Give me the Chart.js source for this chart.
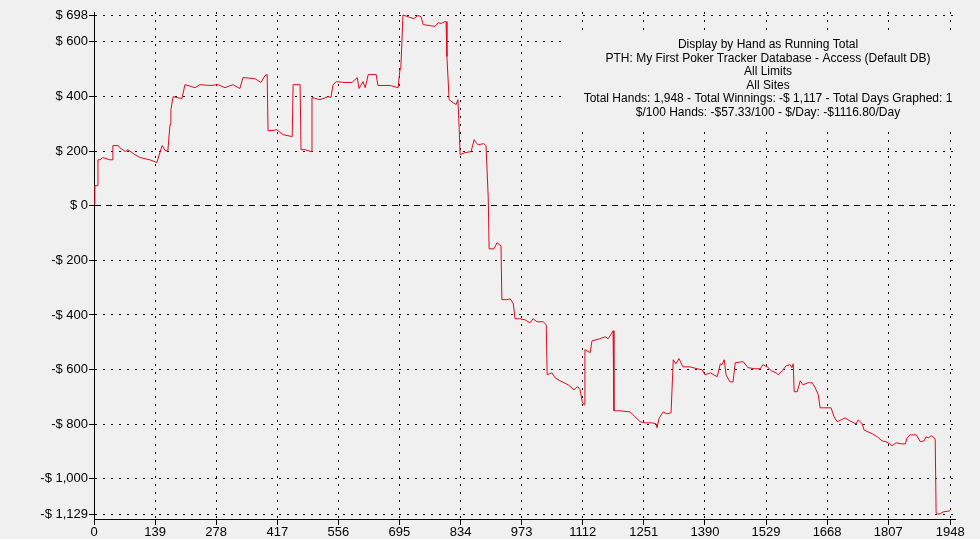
<!DOCTYPE html>
<html lang="en">
<head>
    <meta charset="UTF-8">
    <title>Running Total by Hand</title>
    <script src="https://cdn.jsdelivr.net/npm/chart.js"></script>
    <style>
        html, body { margin: 0; padding: 0; background: #f0f0f0; }
        #wrap { width: 980px; height: 539px; }
    </style>
</head>
<body>
    <div id="wrap"><canvas id="graph" width="980" height="539"></canvas></div>

    <script>
        // hand number and running total ($)
        const hands = [0, 2, 7, 9, 14, 20, 36, 41, 43, 55, 59, 71, 77, 93, 105, 127, 143, 155, 162, 168,
            173, 175, 180, 200, 207, 230, 241, 264, 282, 298, 316, 332, 339, 366, 380, 389, 394, 396, 405, 416,
            430, 451, 453, 469, 471, 480, 494, 496, 514, 533, 539, 544, 551, 571, 587, 599, 603, 612, 617, 624,
            642, 646, 674, 692, 696, 698, 703, 719, 728, 737, 744, 749, 765, 776, 783, 790, 799, 801, 803, 808,
            817, 824, 828, 831, 833, 844, 858, 865, 869, 874, 887, 892, 894, 897, 899, 910, 917, 926, 928, 940,
            947, 954, 958, 969, 981, 992, 999, 1008, 1022, 1029, 1031, 1042, 1049, 1060, 1079, 1092, 1097, 1101, 1106, 1111,
            1115, 1117, 1129, 1133, 1151, 1163, 1170, 1177, 1181, 1183, 1197, 1220, 1231, 1243, 1254, 1270, 1279, 1281, 1286, 1295,
            1304, 1313, 1318, 1324, 1331, 1340, 1356, 1372, 1384, 1390, 1402, 1418, 1425, 1429, 1434, 1438, 1447, 1454, 1459, 1477,
            1488, 1504, 1516, 1522, 1532, 1541, 1552, 1557, 1566, 1575, 1584, 1588, 1591, 1593, 1600, 1607, 1613, 1625, 1634, 1641,
            1648, 1652, 1668, 1677, 1684, 1691, 1700, 1709, 1720, 1734, 1739, 1748, 1752, 1761, 1771, 1782, 1793, 1802, 1811, 1816,
            1825, 1837, 1846, 1850, 1857, 1871, 1880, 1889, 1893, 1898, 1905, 1912, 1914, 1916, 1920, 1925, 1932, 1948];
        const winnings = [5, 73, 73, 168, 168, 176, 168, 168, 220, 220, 212, 198, 205, 187, 176, 168, 158, 220, 201, 201,
            297, 352, 399, 392, 443, 432, 443, 440, 443, 432, 443, 429, 469, 465, 451, 476, 480, 275, 275, 278,
            260, 253, 443, 443, 205, 205, 198, 396, 388, 399, 396, 443, 454, 451, 451, 469, 429, 454, 432, 480,
            480, 440, 440, 432, 498, 498, 698, 689, 685, 696, 692, 663, 659, 656, 670, 667, 674, 674, 546, 388,
            377, 370, 388, 278, 187, 194, 198, 242, 231, 223, 227, 220, 220, 29, -158, -158, -136, -147, -344, -344,
            -341, -359, -414, -414, -418, -429, -414, -425, -425, -436, -619, -612, -630, -641, -656, -674, -667, -663, -674, -718,
            -729, -527, -538, -495, -487, -480, -487, -469, -458, -751, -751, -755, -773, -791, -795, -795, -799, -813, -777, -755,
            -762, -758, -564, -579, -560, -590, -590, -597, -601, -619, -612, -626, -579, -582, -564, -619, -645, -645, -575, -571,
            -593, -597, -597, -582, -590, -604, -612, -619, -604, -586, -582, -593, -579, -681, -681, -641, -656, -648, -648, -667,
            -692, -740, -740, -740, -773, -791, -784, -777, -788, -799, -784, -799, -821, -828, -835, -846, -861, -864, -872, -879,
            -868, -872, -872, -850, -839, -839, -864, -861, -846, -850, -842, -850, -857, -1125, -1129, -1128, -1121, -1117];

        const xTicks = [0, 139, 278, 417, 556, 695, 834, 973, 1112, 1251, 1390, 1529, 1668, 1807, 1948];
        const yTicks = [698, 600, 400, 200, 0, -200, -400, -600, -800, -1000, -1129];

        const infoLines = [
            'Display by Hand as Running Total',
            'PTH: My First Poker Tracker Database - Access (Default DB)',
            'All Limits',
            'All Sites',
            'Total Hands: 1,948 - Total Winnings: -$ 1,117 - Total Days Graphed: 1',
            '$/100 Hands: -$57.33/100 - $/Day: -$1116.80/Day'
        ];

        function money(v) {
            const s = Math.abs(v).toLocaleString('en-US');
            return (v < 0 ? '-$ ' : '$ ') + s;
        }

        // header text block, drawn on a plain box that hides the grid behind it
        const infoText = {
            id: 'infoText',
            beforeDatasetsDraw(chart) {
                const ctx = chart.ctx;
                ctx.save();
                ctx.fillStyle = '#f0f0f0';
                ctx.fillRect(562, 30, 412, 98);
                ctx.font = '12px "Liberation Sans", Arial, sans-serif';
                ctx.fillStyle = '#000';
                ctx.textAlign = 'center';
                ctx.textBaseline = 'middle';
                infoLines.forEach((line, i) => {
                    ctx.fillText(line, 768, 45 + i * 13.5);
                });
                ctx.restore();
            }
        };

        const points = hands.map((h, i) => ({ x: h, y: winnings[i] }));

        new Chart(document.getElementById('graph'), {
            type: 'line',
            data: {
                datasets: [{
                    data: points,
                    borderColor: 'rgb(220, 10, 30)',
                    borderWidth: 1,
                    pointRadius: 0,
                    tension: 0,
                    fill: false
                }]
            },
            options: {
                responsive: false,
                animation: false,
                layout: { padding: { top: 12, right: 25, left: 0, bottom: 0 } },
                plugins: {
                    legend: { display: false },
                    tooltip: { enabled: false }
                },
                scales: {
                    x: {
                        type: 'linear',
                        min: 0,
                        max: 1959,
                        afterBuildTicks: scale => { scale.ticks = xTicks.map(v => ({ value: v })); },
                        afterFit: scale => { scale.height = 20; },
                        ticks: {
                            autoSkip: false,
                            maxRotation: 0,
                            padding: 0,
                            color: '#000',
                            font: { family: '"Liberation Sans", Arial, sans-serif', size: 13 },
                            callback: v => String(v)
                        },
                        grid: {
                            color: '#000',
                            lineWidth: 1,
                            tickLength: 6,
                            tickColor: '#000',
                            tickBorderDash: []
                        },
                        border: { display: true, color: '#000', width: 1, dash: [2, 6] }
                    },
                    y: {
                        min: -1147,
                        max: 709,
                        afterBuildTicks: scale => { scale.ticks = yTicks.map(v => ({ value: v })); },
                        afterFit: scale => { scale.width = 94; },
                        ticks: {
                            padding: 1,
                            color: '#000',
                            font: { family: '"Liberation Sans", Arial, sans-serif', size: 13 },
                            callback: v => money(v)
                        },
                        grid: {
                            color: '#000',
                            lineWidth: 1,
                            tickLength: 5,
                            tickColor: '#000',
                            tickBorderDash: []
                        },
                        border: {
                            display: true,
                            color: '#000',
                            width: 1,
                            dash: ctx => (ctx.tick && ctx.tick.value === 0) ? [6, 5] : [2, 6]
                        }
                    }
                }
            },
            plugins: [infoText]
        });
    </script>
</body>
</html>
